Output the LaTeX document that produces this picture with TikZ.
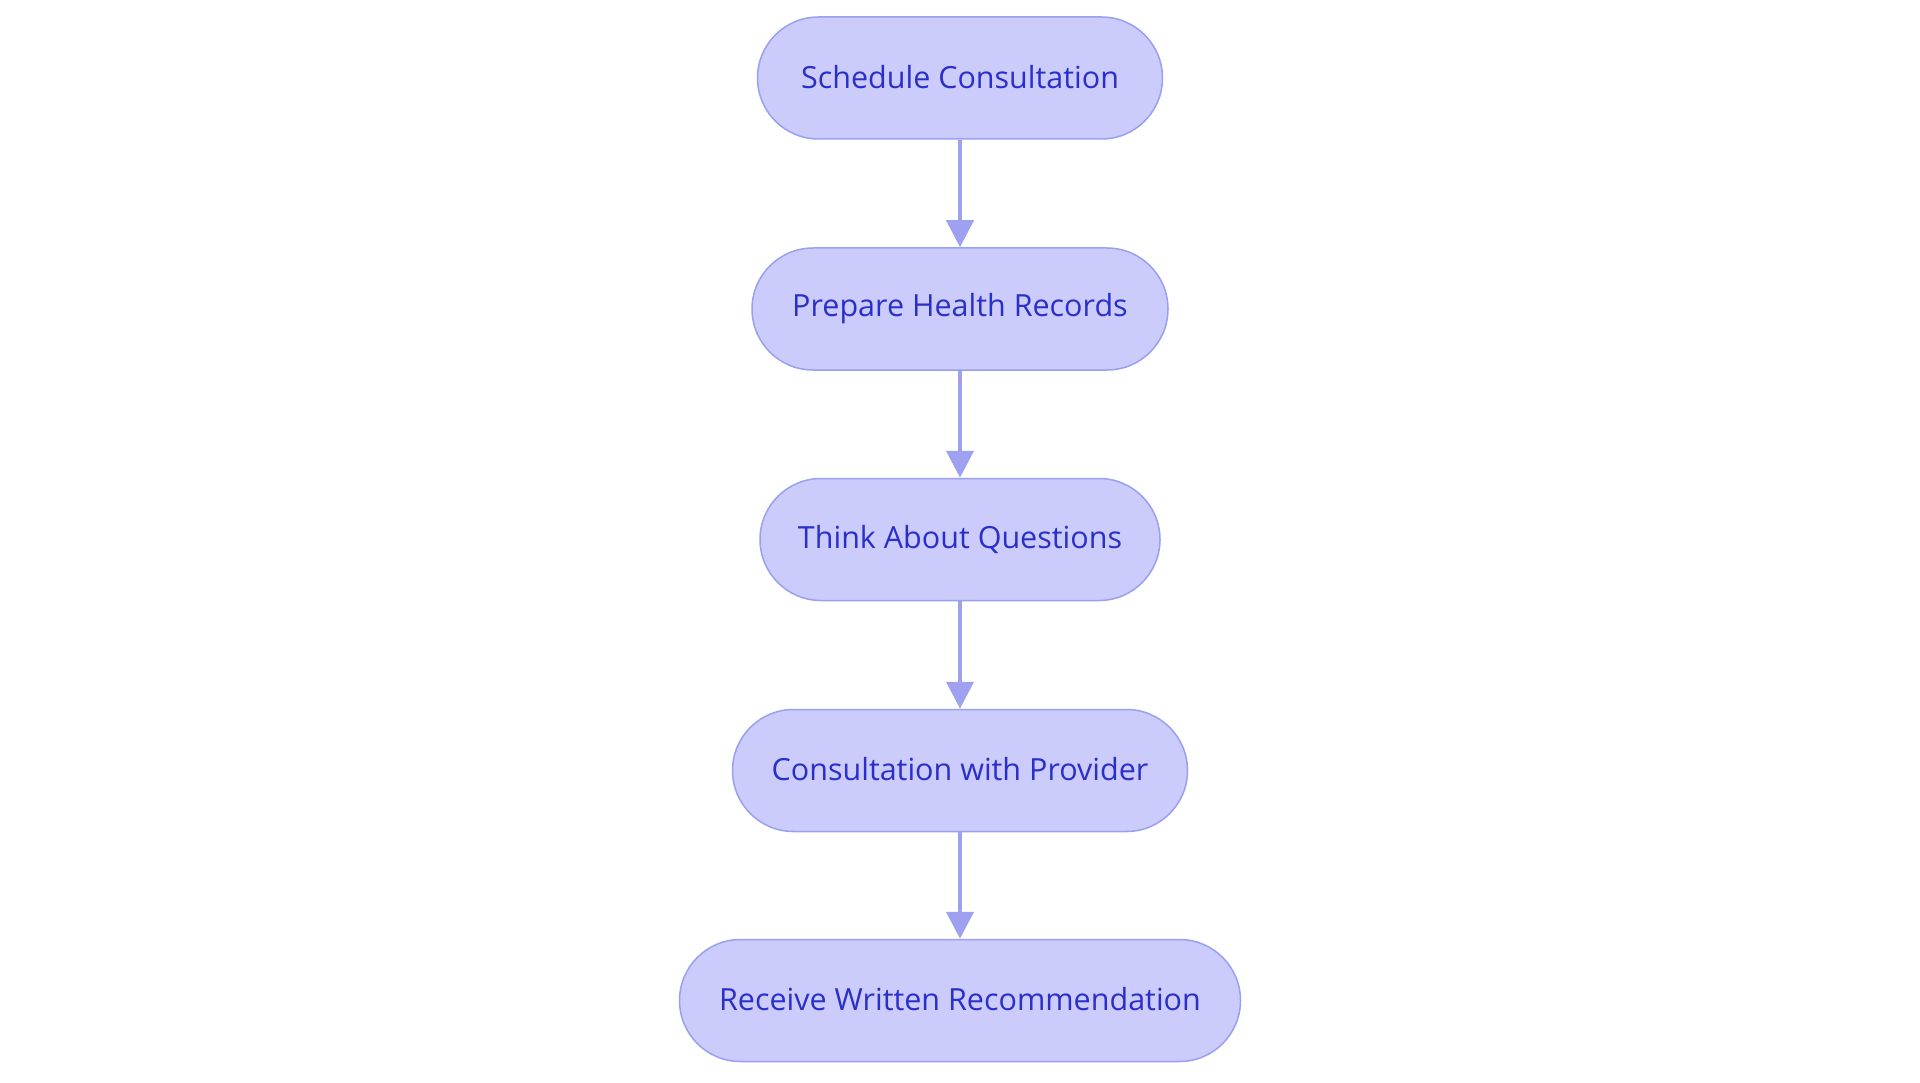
\documentclass[tikz,border=0pt]{standalone}
\usepackage{fontspec}
\setmainfont{Open Sans}
\usetikzlibrary{arrows.meta}
\definecolor{boxfill}{HTML}{CBCBFC}
\definecolor{boxline}{HTML}{9A9FEF}
\definecolor{boxtext}{HTML}{2B2FC9}
\definecolor{arrowc}{HTML}{9DA1F0}
\tikzset{
  stepbox/.style={draw=boxline, fill=boxfill, line width=1.5pt, rounded corners=61pt,
    minimum height=122pt, inner sep=0pt, text=boxtext,
    font=\fontsize{30.5}{36}\selectfont},
  flow/.style={draw=arrowc, line width=4pt, -{Triangle[width=27pt,length=27pt]}}
}
\begin{document}
\begin{tikzpicture}[x=1pt,y=1pt]
\useasboundingbox (0,0) rectangle (1920,-1083);
\node[stepbox, minimum width=405pt] (a) at (960,-78) {\raisebox{2.5pt}{Schedule Consultation}};
\node[stepbox, minimum width=416pt] (b) at (960,-309) {\raisebox{2.5pt}{Prepare Health Records}};
\node[stepbox, minimum width=400pt] (c) at (960,-539.5) {\raisebox{2.5pt}{Think About Questions}};
\node[stepbox, minimum width=455pt] (d) at (960,-770.5) {\raisebox{2.5pt}{Consultation with Provider}};
\node[stepbox, minimum width=561pt] (e) at (960,-1000.5) {\raisebox{2.5pt}{Receive Written Recommendation}};
\draw[flow] (a) -- (b);
\draw[flow] (b) -- (c);
\draw[flow] (c) -- (d);
\draw[flow] (d) -- (e);
\end{tikzpicture}
\end{document}
